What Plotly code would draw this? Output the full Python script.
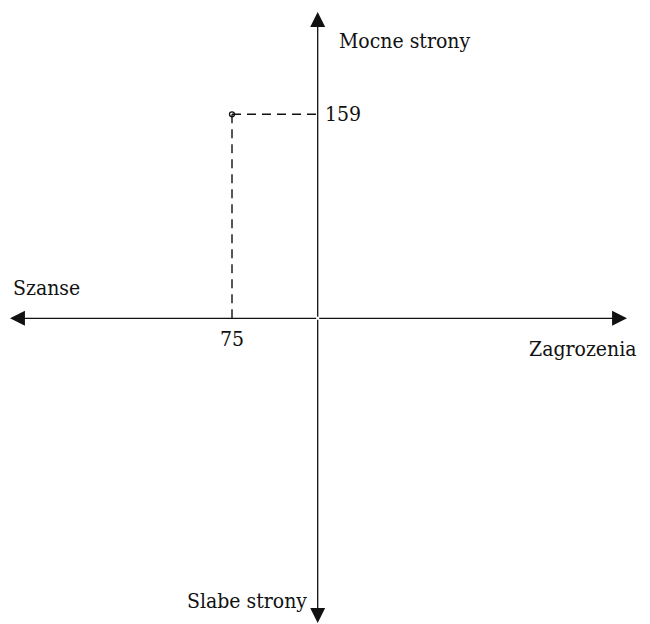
import plotly.graph_objects as go

# Data
point_x = [-75]          # Szanse (left side) value
point_y = [159]          # Mocne strony value
x_label = ["75"]
y_label = ["159"]
axis_labels = ["Mocne strony", "Slabe strony", "Szanse", "Zagrozenia"]

W, H = 650, 624
OFF = 8  # page body margin offset in the browser

# pixel positions (reference) of axis crossing and scale
CX, CY = 317.7, 318.3
KX, KY = 1.1427, 1.283


def ref_to_x(px):
    return (px - CX) / KX


def ref_to_y(py):
    return (CY - py) / KY


XR = [ref_to_x(OFF), ref_to_x(OFF + W)]
YR = [ref_to_y(OFF + H), ref_to_y(OFF)]

FONT = dict(family="DejaVu Serif Condensed, DejaVu Serif", size=21, color="#111")
LINE = "#111"

fig = go.Figure()

# dashed guide lines from the point to the axes
fig.add_trace(go.Scatter(x=[point_x[0], 0], y=[point_y[0], point_y[0]], mode="lines",
                         line=dict(color=LINE, width=1.4, dash="9px,6px"),
                         hoverinfo="skip", showlegend=False))
fig.add_trace(go.Scatter(x=[point_x[0], point_x[0]], y=[point_y[0], 0], mode="lines",
                         line=dict(color=LINE, width=1.4, dash="9px,6px"),
                         hoverinfo="skip", showlegend=False))
# the point
fig.add_trace(go.Scatter(x=point_x, y=point_y, mode="markers",
                         marker=dict(symbol="circle-open", size=5, color=LINE,
                                     line=dict(width=1.3, color=LINE)),
                         showlegend=False))

# axes with arrows
tips = [(ref_to_x(10), 0), (ref_to_x(627), 0), (0, ref_to_y(12)), (0, ref_to_y(623))]
for tx, ty in tips:
    fig.add_annotation(x=tx, y=ty, ax=0, ay=0, xref="x", yref="y", axref="x", ayref="y",
                       text="", showarrow=True, arrowhead=2, arrowsize=2.3,
                       arrowwidth=1.3, arrowcolor=LINE)


# labels (positions given in reference pixels)
def lab(text, px, py, xanchor):
    fig.add_annotation(x=ref_to_x(px), y=ref_to_y(py), xref="x", yref="y", text=text,
                       showarrow=False, xanchor=xanchor, yanchor="middle", font=FONT)


lab(axis_labels[0], 337, 41, "left")
lab(axis_labels[1], 185, 601, "left")
lab(axis_labels[2], 11, 288, "left")
lab(axis_labels[3], 638, 349, "right")

fig.add_annotation(x=0, y=point_y[0], xref="x", yref="y", text=y_label[0], showarrow=False,
                   xanchor="left", yanchor="middle", xshift=5, font=FONT)
fig.add_annotation(x=point_x[0], y=0, xref="x", yref="y", text=x_label[0], showarrow=False,
                   xanchor="center", yanchor="top", yshift=-7, font=FONT)

fig.update_xaxes(range=XR, visible=False, fixedrange=True)
fig.update_yaxes(range=YR, visible=False, fixedrange=True)
fig.update_layout(width=W, height=H, margin=dict(l=0, r=0, t=0, b=0),
                  plot_bgcolor="white", paper_bgcolor="white")

fig.write_html("out.html")
